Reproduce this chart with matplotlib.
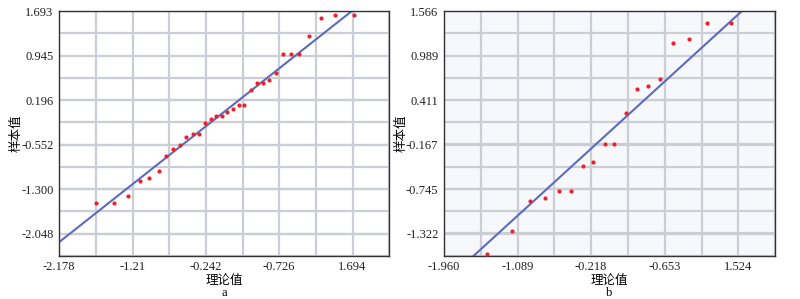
import numpy as np
import matplotlib
matplotlib.use("Agg")
import matplotlib.pyplot as plt

plt.rcParams['font.family'] = ['Liberation Serif', 'Noto Sans CJK SC']

# panel a: Q-Q points (theoretical, sample)
a_theory = [-1.698, -1.452, -1.267, -1.118, -0.990, -0.867, -0.774, -0.678,
            -0.581, -0.502, -0.418, -0.339, -0.255, -0.180, -0.106, -0.031,
            0.035, 0.110, 0.189, 0.264, 0.356, 0.427, 0.510, 0.585,
            0.682, 0.779, 0.876, 0.990, 1.122, 1.276, 1.456, 1.712]
a_sample = [-1.526, -1.526, -1.409, -1.162, -1.107, -0.989, -0.748, -0.619,
            -0.558, -0.429, -0.367, -0.367, -0.194, -0.121, -0.071, -0.071,
            -0.003, 0.053, 0.120, 0.120, 0.366, 0.489, 0.489, 0.534,
            0.657, 0.971, 0.971, 0.971, 1.268, 1.581, 1.631, 1.631]
a_xticks = [-2.178, -1.21, -0.242, 0.726, 1.694]
a_xlabels = ['-2.178', '-1.21', '-0.242', '-0.726', '1.694']
a_yticks = [1.693, 0.945, 0.196, -0.552, -1.300, -2.048]
a_ylabels = ['1.693', '0.945', '0.196', '-0.552', '-1.300', '-2.048']
a_xlim = (-2.178, 2.178)
a_ylim = (-2.422, 1.693)
a_fit = (0.0, 1.005)  # intercept, slope

# panel b
b_theory = [-1.446, -1.154, -0.940, -0.759, -0.601, -0.458, -0.320, -0.197,
            -0.059, 0.056, 0.194, 0.320, 0.451, 0.597, 0.755, 0.937,
            1.150, 1.439]
b_sample = [-1.581, -1.287, -0.898, -0.859, -0.764, -0.764, -0.440, -0.392,
            -0.159, -0.159, 0.248, 0.550, 0.593, 0.689, 1.156, 1.199,
            1.406, 1.406]
b_xticks = [-1.960, -1.089, -0.218, 0.653, 1.524]
b_xlabels = ['-1.960', '-1.089', '-0.218', '-0.653', '1.524']
b_yticks = [1.566, 0.989, 0.411, -0.167, -0.745, -1.322]
b_ylabels = ['1.566', '0.989', '0.411', '-0.167', '-0.745', '-1.322']
b_xlim = (-1.960, 1.960)
b_ylim = (-1.611, 1.566)
b_fit = (0.0, 1.0)


def qq_panel(ax, x, y, xticks, xlabels, yticks, ylabels, xlim, ylim, fit, tag, bg):
    ax.set_facecolor(bg)
    ax.set_xlim(*xlim)
    ax.set_ylim(*ylim)
    # minor grid halfway between major ticks
    dx = xticks[1] - xticks[0]
    dy = yticks[0] - yticks[1]
    ax.set_xticks(np.arange(xlim[0], xlim[1] + 1e-6, dx / 2), minor=True)
    ax.set_yticks(np.arange(ylim[1], ylim[0] - 1e-6, -dy / 2), minor=True)
    ax.set_xticks(xticks)
    ax.set_xticklabels(xlabels)
    ax.set_yticks(yticks)
    ax.set_yticklabels(ylabels)
    ax.grid(True, which='both', color='#cbced4', lw=1.6)
    ax.set_axisbelow(True)
    ax.tick_params(which='both', length=0, labelsize=9, pad=4, colors='#222222')
    for s in ax.spines.values():
        s.set_color('#333333')
        s.set_linewidth(1.0)
    ax.axline((0, fit[0]), slope=fit[1], color='#5b6bbf', lw=1.5, zorder=2)
    ax.scatter(x, y, s=9, color='#f0202a', zorder=3, linewidths=0)
    ax.set_xlabel('理论值\n' + tag, fontsize=9, labelpad=1, linespacing=1.05)
    ax.set_ylabel('样本值', fontsize=9, labelpad=-1)


fig = plt.figure(figsize=(8, 2.99), dpi=100)
ax1 = fig.add_axes([0.074, 0.144, 0.4125, 0.819])
ax2 = fig.add_axes([0.555, 0.144, 0.414, 0.819])

qq_panel(ax1, a_theory, a_sample, a_xticks, a_xlabels, a_yticks, a_ylabels,
         a_xlim, a_ylim, a_fit, 'a', 'white')
qq_panel(ax2, b_theory, b_sample, b_xticks, b_xlabels, b_yticks, b_ylabels,
         b_xlim, b_ylim, b_fit, 'b', '#f6f8fc')

fig.savefig('out.png', dpi=100)
